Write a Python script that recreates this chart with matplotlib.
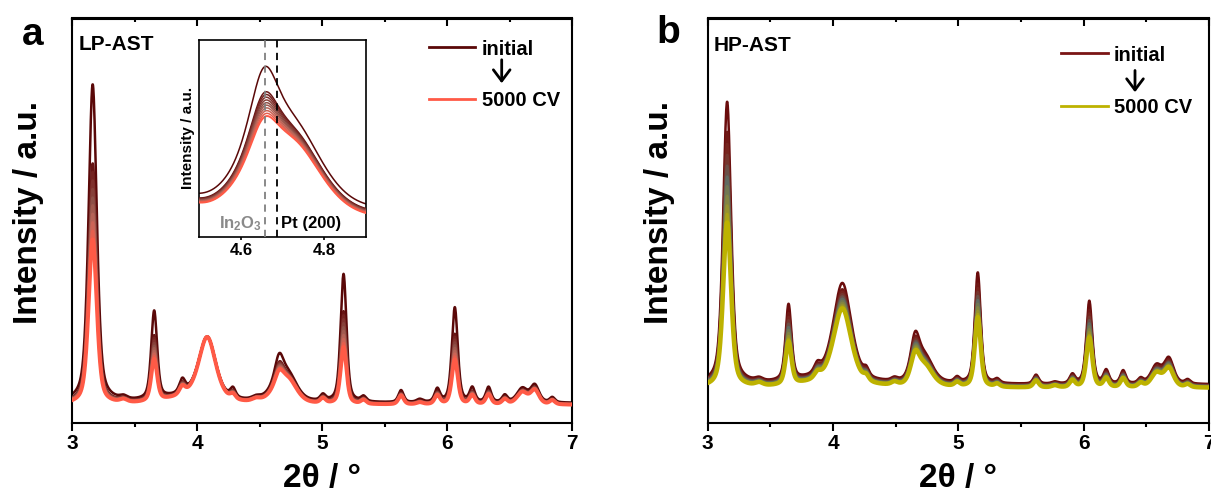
import numpy as np
import matplotlib
matplotlib.use('Agg')
import matplotlib.pyplot as plt
from matplotlib.colors import LinearSegmentedColormap
from matplotlib.ticker import MultipleLocator, NullLocator

plt.rcParams['font.family'] = ['Liberation Sans', 'DejaVu Sans']
plt.rcParams['font.weight'] = 'bold'
plt.rcParams['mathtext.fontset'] = 'custom'
plt.rcParams['mathtext.rm'] = 'Liberation Sans:bold'
plt.rcParams['mathtext.it'] = 'Liberation Sans:bold'
plt.rcParams['mathtext.bf'] = 'Liberation Sans:bold'

# ---------------- data ----------------
stage_labels = ['initial', '500 CV', '1000 CV', '1500 CV', '2000 CV', '2500 CV',
                '3000 CV', '3500 CV', '4000 CV', '4500 CV', '5000 CV']

# fraction of the change (initial -> 5000 CV) reached at each stage
a_stage_frac = [0.0, 0.51, 0.565, 0.62, 0.675, 0.73, 0.78, 0.835, 0.89, 0.945, 1.0]
b_stage_frac = [0.0, 0.25, 0.35, 0.44, 0.53, 0.62, 0.70, 0.78, 0.86, 0.93, 1.0]

# LP-AST reflections: position (2theta), FWHM, height initial, height 5000 CV
a_pos = [3.163, 3.41, 3.655, 3.88, 3.95, 4.08, 4.285, 4.47, 4.60, 4.655, 4.73, 5.005,
         5.17, 5.33, 5.63, 5.78, 5.92, 6.06, 6.20, 6.33, 6.46, 6.60, 6.70, 6.84]
a_fwhm = [0.078, 0.07, 0.056, 0.055, 0.45, 0.16, 0.05, 0.08, 0.14, 0.085, 0.16, 0.05,
          0.056, 0.05, 0.05, 0.06, 0.05, 0.056, 0.05, 0.05, 0.05, 0.10, 0.08, 0.05]
a_h_init = [318, 3, 88, 13, 7, 60, 9, 3, 7, 30, 26, 6,
            128, 5, 12, 3, 13, 95, 14, 15, 7, 14, 17, 5]
a_h_final = [165, 3, 42, 8, 7, 62, 5, 3, 6, 18, 23, 5,
             57, 4, 9, 2, 9, 45, 9, 10, 5, 12, 14, 4]
a_base = [19.5, 17.5]

# HP-AST reflections
b_pos = [3.155, 3.41, 3.645, 3.875, 3.95, 4.075, 4.265, 4.49, 4.655, 4.735, 4.99,
         5.155, 5.31, 5.62, 5.77, 5.91, 6.045, 6.18, 6.315, 6.455, 6.58, 6.68, 6.83]
b_fwhm = [0.075, 0.07, 0.056, 0.06, 0.45, 0.17, 0.05, 0.06, 0.085, 0.15, 0.05,
          0.056, 0.05, 0.05, 0.06, 0.05, 0.056, 0.05, 0.05, 0.05, 0.10, 0.09, 0.05]
b_h_init = [282, 3, 76, 9, 6, 96, 7, 3, 40, 25, 5,
            111, 4, 9, 2, 9, 83, 13, 13, 5, 18, 25, 4]
b_h_final = [165, 3, 43, 6, 5, 75, 5, 3, 27, 20, 4,
             70, 3, 7, 2, 7, 50, 9, 9, 4, 14, 19, 3]
b_base = [38.0, 34.5]

a_colors = ['#5a0808', '#7b2a26', '#8e5148', '#c0675a', '#ff5a46']
b_colors = ['#6a0c0c', '#7a2a22', '#5f6a62', '#8c8a3a', '#bdb200']

inset_xlim = (4.5, 4.9)
inset_ylim = (13.75, 78.3)
in2o3_pos = 4.658
pt200_pos = 4.686


def profile(x, c, w, eta=0.5):
    u = (x - c) / w
    return eta / (1 + 4 * u ** 2) + (1 - eta) * np.exp(-4 * np.log(2) * u ** 2)


def pattern(x, pos, fwhm, h0, h1, base, f):
    y = np.full_like(x, base[0] + f * (base[1] - base[0]))
    for c, w, a0, a1 in zip(pos, fwhm, h0, h1):
        y += (a0 + f * (a1 - a0)) * profile(x, c, w)
    return y


x = np.linspace(3.0, 7.0, 2001)

W, H = 1211, 492
fig = plt.figure(figsize=(W / 100, H / 100), dpi=100)


def fx(px):
    return px / W


def fy(py):
    return 1 - py / H


def setup_axes(ax):
    ax.set_xlim(3, 7)
    ax.set_ylim(0, 404)
    ax.xaxis.set_major_locator(MultipleLocator(1))
    ax.xaxis.set_minor_locator(MultipleLocator(0.5))
    ax.yaxis.set_major_locator(NullLocator())
    ax.tick_params(axis='x', which='major', direction='out', length=5.5, width=1.5,
                   labelsize=15, pad=3)
    ax.tick_params(axis='x', which='minor', direction='out', length=3, width=1.5)
    for s in ax.spines.values():
        s.set_linewidth(1.5)
    sec = ax.secondary_xaxis('top')
    sec.xaxis.set_major_locator(MultipleLocator(1))
    sec.xaxis.set_minor_locator(MultipleLocator(0.5))
    sec.tick_params(which='major', direction='in', length=5.5, width=1.5, labeltop=False)
    sec.tick_params(which='minor', direction='in', length=3, width=1.5)
    sec.spines['top'].set_linewidth(1.5)
    ax.set_xlabel('2θ / °', fontsize=24, fontweight='bold')
    ax.xaxis.set_label_coords(0.5, -0.1)
    ax.set_ylabel('Intensity / a.u.', fontsize=24, fontweight='bold')


def draw_curves(ax, pos, fwhm, h0, h1, base, fracs, colors, xx, lw=1.8, lw_last=2.8):
    cmap = LinearSegmentedColormap.from_list('c', colors)
    n = len(fracs)
    for k, f in enumerate(fracs):
        y = pattern(xx, pos, fwhm, h0, h1, base, f)
        ax.plot(xx, y, color=cmap(k / (n - 1)), lw=(lw_last if k == n - 1 else lw),
                zorder=2 + k)


# ---------------- panel a ----------------
axa = fig.add_axes([fx(72.3), fy(422.5), fx(500), (422.5 - 18.5) / H])
setup_axes(axa)
draw_curves(axa, a_pos, a_fwhm, a_h_init, a_h_final, a_base, a_stage_frac, a_colors, x)
axa.yaxis.set_label_coords(-0.057, 0.52)
axa.text(0.013, 0.922, 'LP-AST', transform=axa.transAxes, fontsize=15,
         fontweight='bold', va='baseline')

# inset
axi = fig.add_axes([fx(199.3), fy(236.7), fx(166.4), 196.7 / H])
xi = np.linspace(inset_xlim[0], inset_xlim[1], 800)
draw_curves(axi, a_pos, a_fwhm, a_h_init, a_h_final, a_base, a_stage_frac, a_colors, xi,
            lw=1.1, lw_last=1.4)
axi.set_xlim(*inset_xlim)
axi.set_ylim(*inset_ylim)
axi.set_xticks([4.6, 4.8])
axi.set_xticklabels(['4.6', '4.8'])
axi.yaxis.set_major_locator(NullLocator())
axi.tick_params(axis='x', direction='out', length=2.5, width=1.2, labelsize=12, pad=2)
for s in axi.spines.values():
    s.set_linewidth(1.2)
axi.axvline(in2o3_pos, color='#808080', ls=(0, (4, 3)), lw=1.3, zorder=20)
axi.axvline(pt200_pos, color='black', ls=(0, (4, 3)), lw=1.3, zorder=20)
axi.set_ylabel('Intensity / a.u.', fontsize=11, fontweight='bold', labelpad=3)
axi.text(4.548, 16.5, r'In$_2$O$_3$', color='#8a8a8a', fontsize=12,
         fontweight='bold', va='baseline', zorder=25)
axi.text(4.696, 16.5, 'Pt (200)', color='black', fontsize=12,
         fontweight='bold', va='baseline', zorder=25)

# legend a
fig.add_artist(plt.Line2D([fx(429), fx(475)], [fy(46.7), fy(46.7)], color=a_colors[0], lw=2))
fig.add_artist(plt.Line2D([fx(429), fx(475)], [fy(99.3), fy(99.3)], color=a_colors[-1], lw=2))
fig.text(fx(482), fy(55), stage_labels[0], fontsize=14.5, fontweight='bold', va='baseline')
fig.text(fx(482), fy(106), stage_labels[-1], fontsize=14.5, fontweight='bold', va='baseline')
fig.add_artist(matplotlib.patches.FancyArrowPatch((fx(501.7), fy(57)), (fx(501.7), fy(86)),
               transform=fig.transFigure, arrowstyle='->,head_length=8,head_width=6',
               lw=2, color='black', mutation_scale=1))

# ---------------- panel b ----------------
axb = fig.add_axes([fx(707.7), fy(422.5), fx(501.3), (422.5 - 18.5) / H])
setup_axes(axb)
draw_curves(axb, b_pos, b_fwhm, b_h_init, b_h_final, b_base, b_stage_frac, b_colors, x,
            lw=1.8, lw_last=3.2)
axb.yaxis.set_label_coords(-0.065, 0.52)
axb.text(0.0126, 0.92, 'HP-AST', transform=axb.transAxes, fontsize=15,
         fontweight='bold', va='baseline')

fig.add_artist(plt.Line2D([fx(1061), fx(1107.7)], [fy(53.3), fy(53.3)], color='#7a1515', lw=2))
fig.add_artist(plt.Line2D([fx(1061), fx(1107.7)], [fy(106), fy(106)], color=b_colors[-1], lw=2))
fig.text(fx(1114), fy(60.7), stage_labels[0], fontsize=14.5, fontweight='bold', va='baseline')
fig.text(fx(1114), fy(112.7), stage_labels[-1], fontsize=14.5, fontweight='bold', va='baseline')
fig.add_artist(matplotlib.patches.FancyArrowPatch((fx(1135), fy(67.7)), (fx(1135), fy(95)),
               transform=fig.transFigure, arrowstyle='->,head_length=8,head_width=6',
               lw=2, color='black', mutation_scale=1))

# panel letters
fig.text(fx(22), fy(45), 'a', fontsize=28, fontweight='bold', va='baseline')
fig.text(fx(656), fy(43), 'b', fontsize=28, fontweight='bold', va='baseline')

fig.savefig('out.png', dpi=100)
